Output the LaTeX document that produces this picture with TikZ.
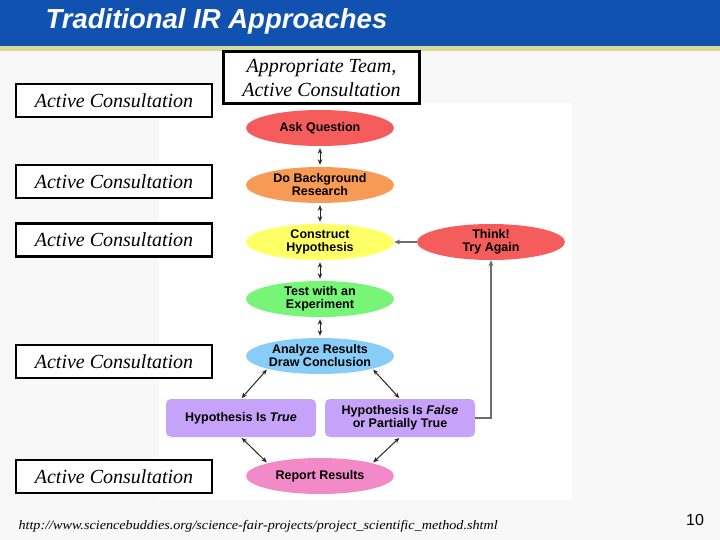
\documentclass[tikz,border=0pt]{standalone}
\usepackage{fontspec}
\setmainfont{Liberation Serif}
\newfontfamily\arialf{Liberation Sans}
\usetikzlibrary{shapes.geometric,arrows.meta}
\definecolor{hdrblue}{RGB}{17,82,176}
\definecolor{khaki}{RGB}{217,217,154}
\definecolor{bggray}{RGB}{248,248,248}
\definecolor{cred}{RGB}{245,93,93}
\definecolor{corange}{RGB}{247,154,85}
\definecolor{cyellow}{RGB}{255,255,102}
\definecolor{cgreen}{RGB}{119,245,119}
\definecolor{cblue}{RGB}{136,204,248}
\definecolor{cpink}{RGB}{242,138,200}
\definecolor{cpurple}{RGB}{198,162,248}
\definecolor{lgray}{RGB}{110,110,110}
\tikzset{
  acbox/.style={draw=black, line width=2.6pt, fill=white, minimum width=196, minimum height=33, inner sep=0pt,
    font=\fontsize{20}{24}\selectfont\itshape, align=center},
  oval/.style={ellipse, minimum width=148, minimum height=36, inner sep=0pt, align=center,
    font=\arialf\bfseries\fontsize{12.5}{13}\selectfont},
  rbox/.style={rounded corners=5pt, fill=cpurple, minimum width=150, minimum height=38, inner sep=0pt, align=center,
    font=\arialf\bfseries\fontsize{12.5}{13}\selectfont},
  darr/.style={{Stealth[length=5.5pt,width=4.5pt]}-{Stealth[length=5.5pt,width=4.5pt]}, line width=1pt, black!85},
  sarr/.style={-{Stealth[length=6pt,width=5pt]}, line width=1.4pt, lgray},
}
\begin{document}
\begin{tikzpicture}[x=1pt,y=-1pt]
\useasboundingbox (0,0) rectangle (720,540);
\fill[bggray] (0,0) rectangle (720,540);
\fill[hdrblue] (0,0) rectangle (720,46);
\fill[khaki] (0,46) rectangle (720,51);
\fill[white] (159,103) rectangle (572,500);
\node[anchor=west, text=white, font=\arialf\bfseries\itshape\fontsize{27.5}{30}\selectfont] (title) at (42,21) {Traditional IR Approaches};

% diagram
\node[oval, fill=cred] (ask) at (320,128) {Ask Question};
\node[oval, fill=corange] (bg) at (320,185) {Do Background\\Research};
\node[oval, fill=cyellow] (con) at (320,242) {Construct\\Hypothesis};
\node[oval, fill=cgreen] (exp) at (320,299) {Test with an\\Experiment};
\node[oval, fill=cblue] (ana) at (320,356) {Analyze Results\\Draw Conclusion};
\node[oval, fill=cpink] (rep) at (320,476) {Report Results};
\node[oval, fill=cred] (think) at (491,242) {Think!\\Try Again};
\node[rbox] (tru) at (241,418) {Hypothesis Is \textit{True}};
\node[rbox] (fal) at (400,418) {Hypothesis Is \textit{False}\\or Partially True};

\draw[darr, shorten <=2pt, shorten >=2pt] (ask) -- (bg);
\draw[darr, shorten <=2pt, shorten >=2pt] (bg) -- (con);
\draw[darr, shorten <=2pt, shorten >=2pt] (con) -- (exp);
\draw[darr, shorten <=2pt, shorten >=2pt] (exp) -- (ana);
\draw[darr, shorten <=1pt, shorten >=1pt] (ana.south west) -- (tru.north);
\draw[darr, shorten <=1pt, shorten >=1pt] (ana.south east) -- (fal.north);
\draw[darr, shorten <=1pt, shorten >=1pt] (tru.south) -- (rep.north west);
\draw[darr, shorten <=1pt, shorten >=1pt] (fal.south) -- (rep.north east);
\draw[sarr] (think.west) -- (con.east);
\draw[sarr] (fal.east) -| (think.south);

% consultation boxes
\node[acbox] (a1) at (114,100.5) {Active Consultation};
\node[acbox, minimum width=196, minimum height=52] (a0) at (321.5,77.5) {Appropriate Team,\\Active Consultation};
\node[acbox] (a2) at (114,181.5) {Active Consultation};
\node[acbox] (a3) at (114,240) {Active Consultation};
\node[acbox] (a4) at (114,361.5) {Active Consultation};
\node[acbox] (a5) at (114,476.5) {Active Consultation};

\node[anchor=west, font=\itshape\fontsize{13}{14}\selectfont] (url) at (15,526) {\scalebox{1.09}[1]{http://www.sciencebuddies.org/science-fair-projects/project\_scientific\_method.shtml}};
\node[font=\arialf\fontsize{16}{18}\selectfont] (pg) at (695,520) {10};
\end{tikzpicture}
\end{document}
